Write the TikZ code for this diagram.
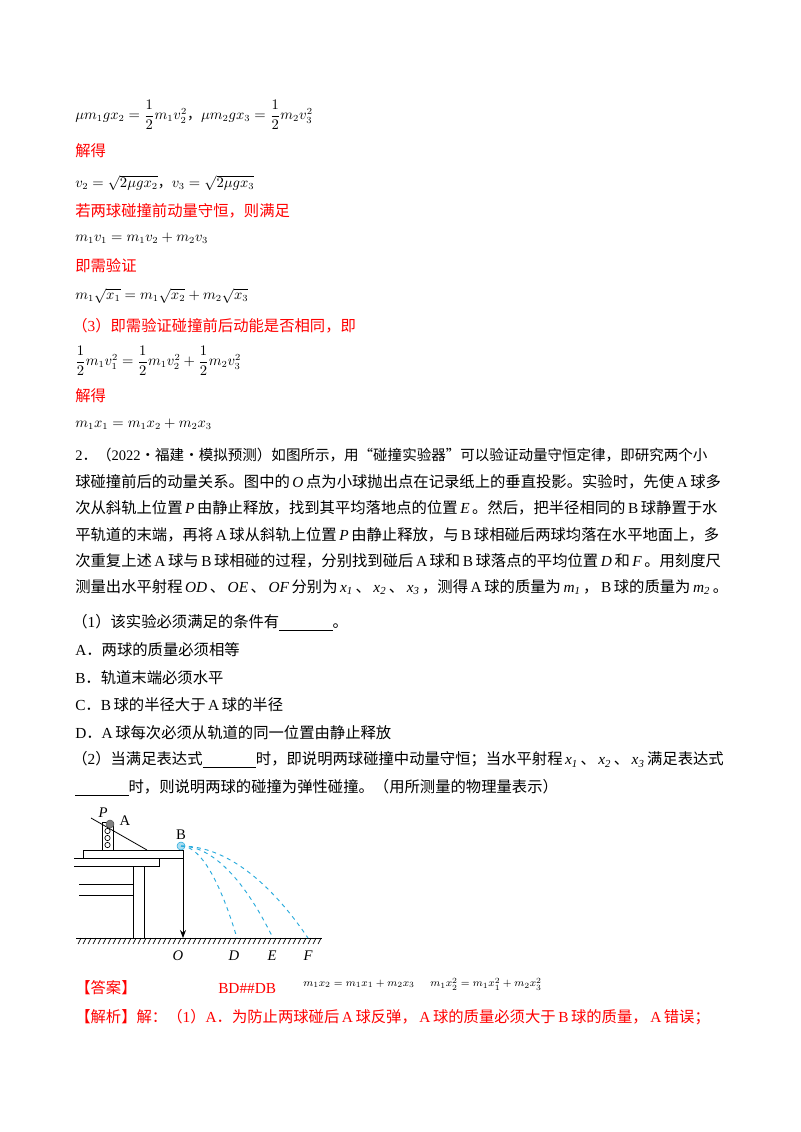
\documentclass[tikz,border=0pt]{standalone}
\usepackage{amsmath}
\usepackage{fontspec}
\setmainfont{Noto Sans CJK SC}
\newfontfamily\tm{Liberation Serif}
\usetikzlibrary{positioning,arrows.meta}
\definecolor{trackblue}{RGB}{40,170,220}
\newcommand{\blank}{\underline{\hspace{40pt}}}
\newcommand{\vi}[1]{\,{\tm\itshape #1}\,}
\newcommand{\up}[1]{\,{\tm #1}\,}
\begin{document}
\begin{tikzpicture}[x=0.75pt,y=-0.75pt,
    line/.style={anchor=west,inner sep=0pt,font=\fontsize{11.5}{14}\selectfont},
    eq/.style={anchor=west,inner sep=0pt,font=\fontsize{10.5}{12}\selectfont},
    hl/.style={line,text=red},
    part/.style={draw,line width=0.6pt},
    track/.style={trackblue,dashed,line width=0.7pt},
    lab/.style={inner sep=1pt,font=\tm\fontsize{11}{12}\selectfont},
  ]
  \useasboundingbox (0,0) rectangle (800,1132);

  % solution lines
  \node[eq] (e1) at (75,115) {$\mu m_1gx_2=\dfrac12m_1v_2^2$，$\mu m_2gx_3=\dfrac12m_2v_3^2$};
  \node[hl] (s1) at (75,151) {解得};
  \node[eq] (e2) at (75,183) {$v_2=\sqrt{2\mu gx_2}$，$v_3=\sqrt{2\mu gx_3}$};
  \node[hl] (s2) at (75,211) {若两球碰撞前动量守恒，则满足};
  \node[eq] (e3) at (75,238) {$m_1v_1=m_1v_2+m_2v_3$};
  \node[hl] (s3) at (75,266) {即需验证};
  \node[eq] (e4) at (75,296) {$m_1\sqrt{x_1}=m_1\sqrt{x_2}+m_2\sqrt{x_3}$};
  \node[hl] (s4) at (72,326) {（{\tm 3}）即需验证碰撞前后动能是否相同，即};
  \node[eq] (e5) at (75,361) {$\dfrac12m_1v_1^2=\dfrac12m_1v_2^2+\dfrac12m_2v_3^2$};
  \node[hl] (s5) at (75,396) {解得};
  \node[eq] (e6) at (75,424) {$m_1x_1=m_1x_2+m_2x_3$};

  % problem 2
  \node[line,font=\fontsize{10.9}{14}\selectfont] (q1) at (75,455) {{\tm 2}．（{\tm 2022}·福建·模拟预测）如图所示，用“碰撞实验器”可以验证动量守恒定律，即研究两个小};
  \node[line] (q2) at (75,482) {球碰撞前后的动量关系。图中的\vi{O}点为小球抛出点在记录纸上的垂直投影。实验时，先使\up{A}球多};
  \node[line] (q3) at (75,508) {次从斜轨上位置\vi{P}由静止释放，找到其平均落地点的位置\vi{E}。然后，把半径相同的\up{B}球静置于水};
  \node[line] (q4) at (75,535) {平轨道的末端，再将\up{A}球从斜轨上位置\vi{P}由静止释放，与\up{B}球相碰后两球均落在水平地面上，多};
  \node[line] (q5) at (75,561) {次重复上述\up{A}球与\up{B}球相碰的过程，分别找到碰后\up{A}球和\up{B}球落点的平均位置\vi{D}和\vi{F}。用刻度尺};
  \node[line] (q6) at (75,587) {测量出水平射程\vi{OD}、\vi{OE}、\vi{OF}分别为\vi{x\textsubscript{1}}、\vi{x\textsubscript{2}}、\vi{x\textsubscript{3}}，测得\up{A}球的质量为\vi{m\textsubscript{1}}，\up{B}球的质量为\vi{m\textsubscript{2}}。};
  \node[line] (q7) at (72,623) {（{\tm 1}）该实验必须满足的条件有\blank。};
  \node[line] (oA) at (75,650) {{\tm A}．两球的质量必须相等};
  \node[line] (oB) at (75,678) {{\tm B}．轨道末端必须水平};
  \node[line] (oC) at (75,705) {{\tm C}．{\tm B}\,球的半径大于\up{A}球的半径};
  \node[line] (oD) at (75,733) {{\tm D}．{\tm A}\,球每次必须从轨道的同一位置由静止释放};
  \node[line] (q8) at (72,760) {（{\tm 2}）当满足表达式\blank 时，即说明两球碰撞中动量守恒；当水平射程\vi{x\textsubscript{1}}、\vi{x\textsubscript{2}}、\vi{x\textsubscript{3}}满足表达式};
  \node[line] (q9) at (75,788) {\blank 时，则说明两球的碰撞为弹性碰撞。（用所测量的物理量表示）};

  % apparatus
  \draw[part] (83,850) rectangle (183,858);
  \draw[part] (74,858) -- (159,858) -- (159,866) -- (74,866);
  \draw[part] (133,866) -- (133,938) (144,866) -- (144,938);
  \draw[part] (79,884) -- (133,884) (79,895) -- (133,895);
  \draw[part] (102,822) rectangle (113,850);
  \foreach \y in {831,838,845} \draw[line width=0.5pt] (107.5,\y) circle (2pt);
  \draw[part] (91,818) -- (147,850);
  \node[circle,fill=gray,draw=gray!70!black,inner sep=0pt,minimum size=6pt] (ballA) at (110,824) {};
  \node[circle,fill=trackblue!40,draw=trackblue,inner sep=0pt,minimum size=6pt] (ballB) at (181,846) {};
  \node[lab,font=\tm\itshape\fontsize{11}{12}\selectfont] (P) at (103,813) {P};
  \node[lab] (A) at (125,821) {A};
  \node[lab] (B) at (181,835) {B};

  % ground
  \draw[line width=0.7pt] (76,938) -- (322,938);
  \foreach \x in {78,83,...,320} \draw[line width=0.5pt] (\x+3,938) -- (\x,944);
  \node[lab,font=\tm\itshape\fontsize{11}{12}\selectfont] (O) at (178,956) {O};
  \node[lab,font=\tm\itshape\fontsize{11}{12}\selectfont] (D) at (234,956) {D};
  \node[lab,font=\tm\itshape\fontsize{11}{12}\selectfont] (E) at (272,956) {E};
  \node[lab,font=\tm\itshape\fontsize{11}{12}\selectfont] (F) at (308,956) {F};
  \coordinate (landO) at (183,938);
  \coordinate (landD) at (237,938);
  \coordinate (landE) at (273,938);
  \coordinate (landF) at (308,938);
  \draw[-{Stealth[length=6pt]},line width=0.6pt] (183,850) -- (landO);
  \draw[track] (ballB.center) parabola (landD);
  \draw[track] (ballB.center) parabola (landE);
  \draw[track] (ballB.center) parabola (landF);

  % answer
  \node[hl] (ans) at (75,988) {【答案】};
  \node[line,text=red,font=\tm\fontsize{11.5}{14}\selectfont] (bd) at (218,988) {BD\#\#DB};
  \node[eq,font=\fontsize{8.5}{10}\selectfont] (a1) at (303,984) {$m_1x_2=m_1x_1+m_2x_3$};
  \node[eq,font=\fontsize{8.5}{10}\selectfont] (a2) at (430,984) {$m_1x_2^2=m_1x_1^2+m_2x_3^2$};
  \node[hl] (jx) at (75,1017) {【解析】解：（{\tm 1}）{\tm A}．为防止两球碰后\up{A}球反弹，\up{A}球的质量必须大于\up{B}球的质量，\up{A}错误；};
\end{tikzpicture}
\end{document}
